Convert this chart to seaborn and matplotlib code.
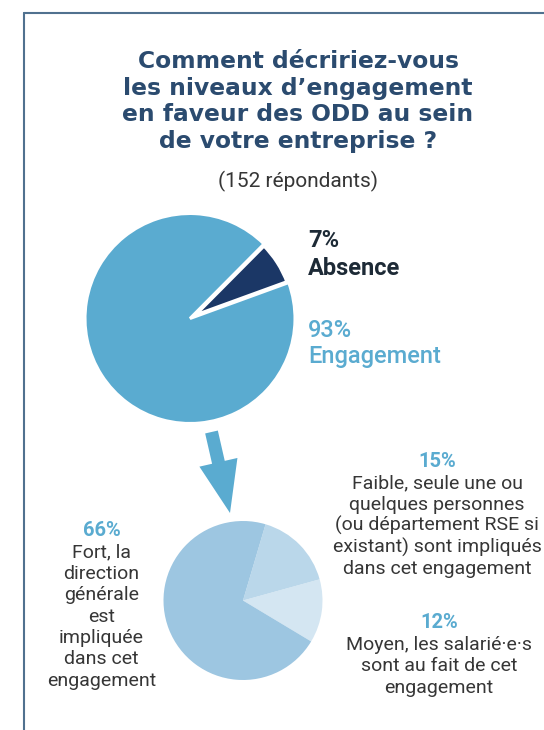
import matplotlib
matplotlib.use('Agg')
import matplotlib.pyplot as plt
import seaborn as sns
from matplotlib.patches import FancyArrow

# données
niveaux = ['Absence', 'Engagement']
parts = [7, 93]

details = ['Moyen', 'Faible', 'Fort']
parts_details = [12, 15, 66]

titre = ['Comment décririez-vous', 'les niveaux d’engagement',
         'en faveur des ODD au sein', 'de votre entreprise ?']
sous_titre = '(152 répondants)'
texte_faible = ['Faible, seule une ou', 'quelques personnes', '(ou département RSE si',
                'existant) sont impliqués', 'dans cet engagement']
texte_moyen = ['Moyen, les salarié·e·s', 'sont au fait de cet', 'engagement']
texte_fort = ['Fort, la', 'direction', 'générale', 'est', 'impliquée', 'dans cet', 'engagement']

# couleurs
bleu = '#5aabd0'
marine = '#1b3766'
titre_col = '#2b4b6f'
gris = '#363636'
pal_bas = ['#d4e6f2', '#bad7ea', '#9dc6e1']

sns.set_theme(style='white')
plt.rcParams['font.family'] = ['Roboto', 'DejaVu Sans']

W, H = 544, 730
fig = plt.figure(figsize=(W / 100, H / 100), dpi=100)
bg = fig.add_axes([0, 0, 1, 1])
bg.set_xlim(0, W)
bg.set_ylim(H, 0)
bg.axis('off')


def axe_camembert(cx, cy, r, pad=1.3):
    s = r * pad
    ax = fig.add_axes([(cx - s) / W, 1 - (cy + s) / H, 2 * s / W, 2 * s / H])
    return ax


# cadre
bg.plot([23.5, 23.5], [H, 12.5], color='#50718f', lw=1.5)
bg.plot([23.5, W], [12.5, 12.5], color='#50718f', lw=1.5)

# titre
for i, ligne in enumerate(titre):
    bg.text(298, 68 + i * 26.7, ligne, ha='center', va='baseline', fontsize=16.8,
            fontweight='bold', color=titre_col, family='DejaVu Sans')
bg.text(298, 187, sous_titre, ha='center', va='baseline', fontsize=15,
        color=gris)

# camembert du haut
ax1 = axe_camembert(190, 318.5, 105)
wedges, _ = ax1.pie(parts, colors=[marine, bleu], startangle=20, counterclock=True,
                    wedgeprops=dict(edgecolor='white', linewidth=2.2))
wedges[0].set_linewidth(4.3)
wedges[0].set_zorder(1)
wedges[1].set_zorder(2)
ax1.set_xlim(-1.3, 1.3)
ax1.set_ylim(-1.3, 1.3)
ax1.axis('off')

bg.text(308, 247, f'{parts[0]}%', va='baseline', fontsize=17, fontweight='bold', color='#1d2a36')
bg.text(308, 275, niveaux[0], va='baseline', fontsize=17, fontweight='bold', color='#1d2a36')
bg.text(308, 337, f'{parts[1]}%', va='baseline', fontsize=17, fontweight='medium', color=bleu)
bg.text(308, 363, niveaux[1], va='baseline', fontsize=17, fontweight='medium', color=bleu)

# flèche
bg.add_patch(FancyArrow(211.5, 432, 18.5, 81, width=13, head_width=39, head_length=52,
                        length_includes_head=True, color=bleu, lw=0))

# camembert du bas
ax2 = axe_camembert(243, 600.5, 79.5)
ax2.pie(parts_details, colors=pal_bas, startangle=-31, counterclock=True,
        wedgeprops=dict(linewidth=0))
ax2.set_xlim(-1.3, 1.3)
ax2.set_ylim(-1.3, 1.3)
ax2.axis('off')


def bloc(x, y0, pct, lignes, pas=21.4):
    bg.text(x, y0, f'{pct}%', ha='center', va='baseline', fontsize=14.5,
            fontweight='bold', color=bleu)
    for i, ligne in enumerate(lignes):
        bg.text(x, y0 + (i + 1) * pas, ligne, ha='center', va='baseline',
                fontsize=14, color=gris)


bloc(437, 466.7, parts_details[1], texte_faible)
bloc(439, 628.5, parts_details[0], texte_moyen)
bloc(101.5, 536, parts_details[2], texte_fort)

fig.savefig('out.png', dpi=100)
